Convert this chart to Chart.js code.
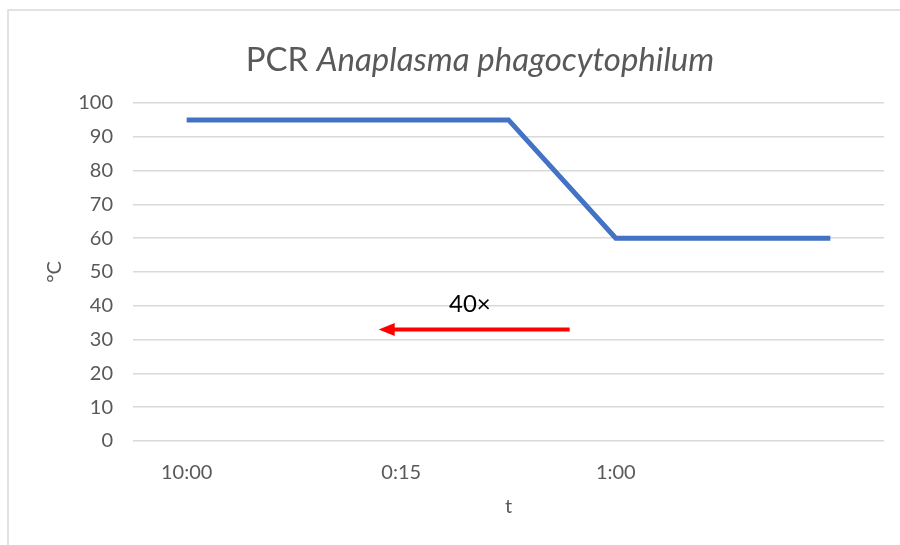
<!DOCTYPE html>
<html>
<head>
<meta charset="utf-8">
<script src="https://cdn.jsdelivr.net/npm/chart.js@4/dist/chart.umd.min.js"></script>
<style>
html,body{margin:0;padding:0;background:#fff;}
#wrap{width:900px;height:545px;position:relative;}
</style>
</head>
<body>
<div id="wrap"><canvas id="c" width="900" height="545"></canvas></div>
<script>
// ---- data ----
const categories = ["10:00", "", "0:15", "", "1:00", "", ""];
const temperatures = [95, 95, 95, 95, 60, 60, 60];
const yTicks = [0, 10, 20, 30, 40, 50, 60, 70, 80, 90, 100];
const titlePlain = "PCR ";
const titleItalic = "Anaplasma phagocytophilum";
const yTitle = "°C";
const xTitle = "t";
const cycleText = "40×";
const cycleArrowFrom = 3.57;   // category index units
const cycleArrowTo = 1.79;
const cycleArrowY = 33;        // °C units
const cycleTextX = 2.64;
const cycleTextY = 40.5;

const FONT = "Lato, 'Open Sans', 'Liberation Sans', sans-serif";
const GREY = "#595959";

const decorPlugin = {
  id: 'decor',
  beforeDraw(chart) {
    const ctx = chart.ctx;
    ctx.save();
    ctx.fillStyle = '#fff';
    ctx.fillRect(0, 0, chart.width, chart.height);
    ctx.strokeStyle = '#D9D9D9';
    ctx.lineWidth = 1.5;
    ctx.strokeRect(8, 10, 1200, 1200);
    ctx.restore();
  },
  afterDraw(chart) {
    const ctx = chart.ctx;
    const xs = chart.scales.x, ys = chart.scales.y;
    ctx.save();
    // title
    ctx.fillStyle = GREY;
    ctx.textBaseline = 'middle';
    const f1 = "33px " + FONT, f2 = "italic 33px " + FONT;
    ctx.font = f1; const w1 = ctx.measureText(titlePlain).width;
    ctx.font = f2; const w2 = ctx.measureText(titleItalic).width;
    const cx = 480;
    let x0 = cx - (w1 + w2) / 2;
    ctx.textAlign = 'left';
    ctx.font = f1; ctx.fillText(titlePlain, x0, 60);
    ctx.font = f2; ctx.fillText(titleItalic, x0 + w1, 60);
    // cycle annotation
    ctx.fillStyle = '#000';
    ctx.font = "24px " + FONT;
    ctx.textAlign = 'center';
    ctx.fillText(cycleText, xs.getPixelForValue(cycleTextX), ys.getPixelForValue(cycleTextY));
    const ax1 = xs.getPixelForValue(cycleArrowFrom);
    const ax2 = xs.getPixelForValue(cycleArrowTo);
    const ay = ys.getPixelForValue(cycleArrowY);
    ctx.strokeStyle = '#FF0000';
    ctx.fillStyle = '#FF0000';
    ctx.lineWidth = 4;
    ctx.beginPath();
    ctx.moveTo(ax1, ay);
    ctx.lineTo(ax2 + 12, ay);
    ctx.stroke();
    ctx.beginPath();
    ctx.moveTo(ax2, ay);
    ctx.lineTo(ax2 + 16, ay - 6.5);
    ctx.lineTo(ax2 + 16, ay + 6.5);
    ctx.closePath();
    ctx.fill();
    ctx.restore();
  }
};

new Chart(document.getElementById('c'), {
  type: 'line',
  data: {
    labels: categories,
    datasets: [{
      data: temperatures,
      borderColor: '#4472C4',
      borderWidth: 5,
      pointRadius: 0,
      tension: 0,
      fill: false,
      borderJoinStyle: 'miter'
    }]
  },
  options: {
    responsive: false,
    animation: false,
    events: [],
    layout: { padding: { top: 103, right: 16, left: 0, bottom: 0 } },
    plugins: { legend: { display: false }, tooltip: { enabled: false }, title: { display: false } },
    scales: {
      x: {
        type: 'category',
        offset: true,
        grid: { display: false, drawTicks: false },
        border: { display: false },
        ticks: { autoSkip: false, maxRotation: 0, color: GREY, font: { family: FONT, size: 20 }, padding: 20 },
        title: { display: true, text: xTitle, color: GREY, font: { family: FONT, size: 20 }, padding: { top: 0, bottom: 26 } },
        afterFit(s) { s.height = 104; }
      },
      y: {
        min: 0, max: 100,
        afterBuildTicks(s) { s.ticks = yTicks.map(v => ({ value: v })); },
        grid: { color: '#D9D9D9', lineWidth: 1.5, drawTicks: false },
        border: { display: false },
        ticks: { color: GREY, font: { family: FONT, size: 20 }, padding: 20 },
        title: { display: true, text: yTitle, color: GREY, font: { family: FONT, size: 20 }, padding: { top: 43, bottom: 0 } },
        afterFit(s) { s.width = 133; }
      }
    }
  },
  plugins: [decorPlugin]
});
</script>
</body>
</html>
